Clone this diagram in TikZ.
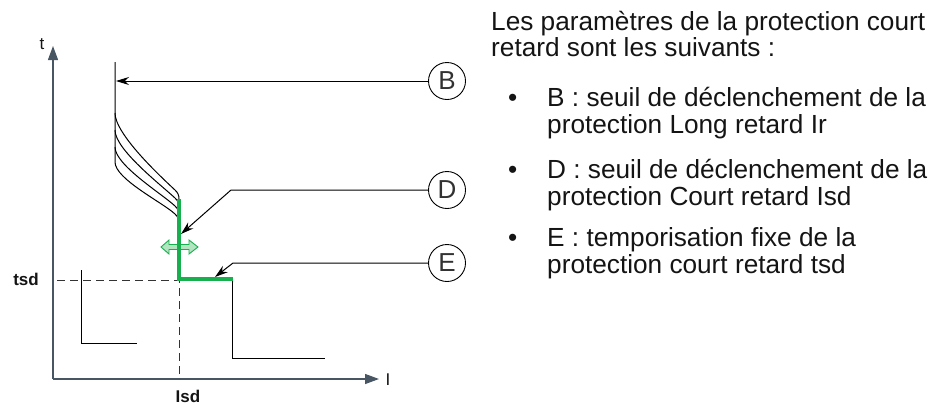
\documentclass[tikz,border=0pt]{standalone}
\usepackage{fontspec}
\setmainfont{Liberation Sans}
\usetikzlibrary{arrows.meta}
\definecolor{axisc}{RGB}{72,86,100}
\definecolor{grn}{RGB}{24,176,78}
\definecolor{lgrn}{RGB}{178,228,192}
\definecolor{txtc}{RGB}{20,20,20}
\definecolor{circc}{RGB}{50,50,50}
\tikzset{
  txt/.style={anchor=base west, inner sep=0pt, text=txtc, font=\fontsize{26.2}{28}\selectfont},
  circ/.style={circle, draw=black, line width=0.9pt, minimum size=37pt, inner sep=0pt, text=circc, font=\fontsize{26}{26}\selectfont},
  lbl/.style={inner sep=0pt, text=txtc, font=\fontsize{17}{17}\selectfont},
  lblb/.style={inner sep=0pt, text=txtc, font=\fontsize{17}{17}\selectfont\bfseries},
  arr/.style={draw=black, line width=1pt, -{Stealth[length=13pt,width=8pt]}},
  thin/.style={draw=black, line width=1pt},
  axis/.style={draw=axisc, line width=1.3pt, -{Triangle[length=14pt,width=10pt]}},
  dashln/.style={draw=black!80, line width=1pt, dash pattern=on 8pt off 5pt},
  grline/.style={draw=grn, line width=3.5pt},
  crv/.style={thin, line join=round},
}
\begin{document}
\begin{tikzpicture}[x=1pt,y=-1pt]
\useasboundingbox (0,0) rectangle (933,405);
% axes
\coordinate (O) at (53,379);
\coordinate (Ttop) at (53,46);
\coordinate (Iend) at (379,379);
\draw[axis] (O) -- (Ttop);
\draw[axis] (O) -- (Iend);
\node[lbl] (tl) at (42,44) {t};
\node[lbl] (il) at (388,380) {I};
\node[lblb] (tsd) at (26,279) {tsd};
\node[lblb] (isd) at (188,396) {Isd};
% dashed guides
\coordinate (d1) at (57,280);
\coordinate (d2) at (179,280);
\coordinate (d3) at (179,379);
\draw[dashln] (d1) -- (d2) -- (d3);
% small L
\coordinate (l1) at (81,270);
\coordinate (l2) at (81,343);
\coordinate (l3) at (137,343);
\draw[thin] (l1) -- (l2) -- (l3);
% long-time curves
\draw[crv] (115,62) -- (115,162) to[out=-90,in=137,looseness=0.55] (175,214) to[out=-43,in=90,looseness=1] (179,223);
\draw[crv] (115,147) to[out=-90,in=137,looseness=0.55] (175,206) to[out=-43,in=90,looseness=1] (179,215);
\draw[crv] (115,130) to[out=-90,in=137,looseness=0.55] (175,198) to[out=-43,in=90,looseness=1] (179,207);
\draw[crv] (115,113) to[out=-90,in=137,looseness=0.55] (175,190) to[out=-43,in=90,looseness=1] (179,199);
% right step
\coordinate (s1) at (232,279);
\coordinate (s2) at (232,358);
\coordinate (s3) at (325,358);
\draw[thin] (s1) -- (s2) -- (s3);
% green double arrow
\path[draw=grn, fill=lgrn, line width=0.9pt, line join=miter]
  (161,247) -- (169,240) -- (169,244.5) -- (189,244.5) -- (189,240) -- (198,247)
  -- (189,254) -- (189,249.5) -- (169,249.5) -- (169,254) -- cycle;
% green curve
\coordinate (g1) at (179,199);
\coordinate (g2) at (179,279);
\coordinate (g3) at (233,279);
\draw[grline] (g1) -- (g2) -- (g3);
% circles and arrows
\node[circ] (B) at (447,81) {B};
\node[circ] (D) at (447,190) {D};
\node[circ] (E) at (447,263) {E};
\coordinate (bt) at (116,81);
\coordinate (dk) at (231,190);
\coordinate (dt) at (181,234);
\coordinate (ek) at (233,263);
\coordinate (et) at (215,277);
\draw[arr] (B.west) -- (bt);
\draw[arr] (D.west) -- (dk) -- (dt);
\draw[arr] (E.west) -- (ek) -- (et);
% text
\node[txt] (p1) at (491,30) {Les paramètres de la protection court};
\node[txt] (p2) at (491,56) {retard sont les suivants :};
\node[txt] (u1) at (508,106) {•};
\node[txt] (b1) at (547,106) {B : seuil de déclenchement de la};
\node[txt] (b2) at (547,133) {protection Long retard Ir};
\node[txt] (u2) at (508,178) {•};
\node[txt] (c1) at (547,178) {D : seuil de déclenchement de la};
\node[txt] (c2) at (547,205) {protection Court retard Isd};
\node[txt] (u3) at (508,246) {•};
\node[txt] (e1) at (547,246) {E : temporisation fixe de la};
\node[txt] (e2) at (547,273) {protection court retard tsd};
\end{tikzpicture}
\end{document}
